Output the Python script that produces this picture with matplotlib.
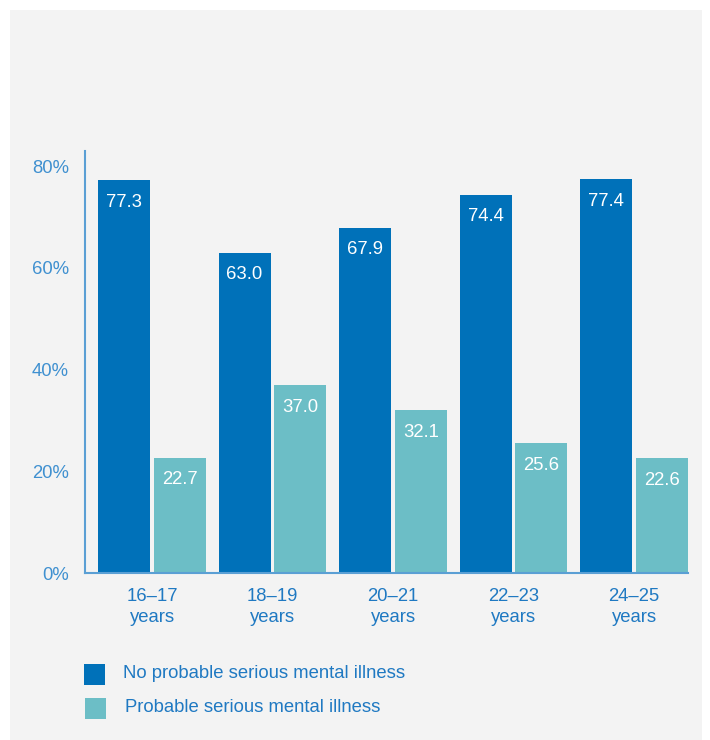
import numpy as np
import matplotlib
matplotlib.use("Agg")
import matplotlib.pyplot as plt
from matplotlib.patches import Rectangle

plt.rcParams['font.family'] = ['Liberation Sans', 'DejaVu Sans']

# data
ages = ['16\u201317\nyears', '18\u201319\nyears', '20\u201321\nyears', '22\u201323\nyears', '24\u201325\nyears']
no_smi = [77.3, 63.0, 67.9, 74.4, 77.4]
smi = [22.7, 37.0, 32.1, 25.6, 22.6]
series_names = ['No probable serious mental illness', 'Probable serious mental illness']
yticks = [0, 20, 40, 60, 80]

dark = '#0071b9'
teal = '#6cbec6'
tick_col = '#3f90d0'
xlab_col = '#1f79c2'
spine_col = '#5a9fd4'
bg = '#f3f3f3'
fs = 13.3

W, H = 710, 740
fig = plt.figure(figsize=(W / 100, H / 100), dpi=100)
fig.patch.set_facecolor('white')
# grey panel
fig.add_artist(Rectangle((10 / W, 0), 692 / W, 730 / H, transform=fig.transFigure,
                         facecolor=bg, edgecolor='none', zorder=-10))

ax = fig.add_axes([85 / W, 167 / H, 603 / W, 422 / H])
ax.set_facecolor(bg)

x = np.arange(len(ages))
w = 0.431
off = 0.232
b1 = ax.bar(x - off, no_smi, w, color=dark, zorder=2)
b2 = ax.bar(x + off, smi, w, color=teal, zorder=2)

for bars, vals in ((b1, no_smi), (b2, smi)):
    for r, v in zip(bars, vals):
        ax.annotate(f'{v:.1f}', (r.get_x() + r.get_width() / 2, v),
                    xytext=(0, -16), textcoords='offset points',
                    ha='center', va='center', color='white', fontsize=fs)

ax.set_xlim(-0.556, 4.448)
ax.set_ylim(0, 83)
ax.set_yticks(yticks)
ax.set_yticklabels([f'{t}%' for t in yticks], color=tick_col, fontsize=fs)
ax.set_xticks(x)
ax.set_xticklabels(ages, color=xlab_col, fontsize=fs, linespacing=1.25)
ax.tick_params(axis='y', length=0, pad=11.5)
ax.tick_params(axis='x', length=0, pad=11)

for s in ('top', 'right'):
    ax.spines[s].set_visible(False)
for s in ('left', 'bottom'):
    ax.spines[s].set_color(spine_col)
    ax.spines[s].set_linewidth(1.5)

# legend
for i, (name, col) in enumerate(zip(series_names, (dark, teal))):
    yc = 674 + 34 * i
    x0 = 84 + i
    fig.add_artist(Rectangle((x0 / W, (H - yc - 10.5) / H), 21 / W, 21 / H,
                             transform=fig.transFigure, facecolor=col, edgecolor='none'))
    fig.text((123 + 2 * i) / W, (H - yc) / H, name, color=xlab_col, fontsize=fs,
             ha='left', va='center')

fig.savefig('out.png', dpi=100, facecolor='white')
